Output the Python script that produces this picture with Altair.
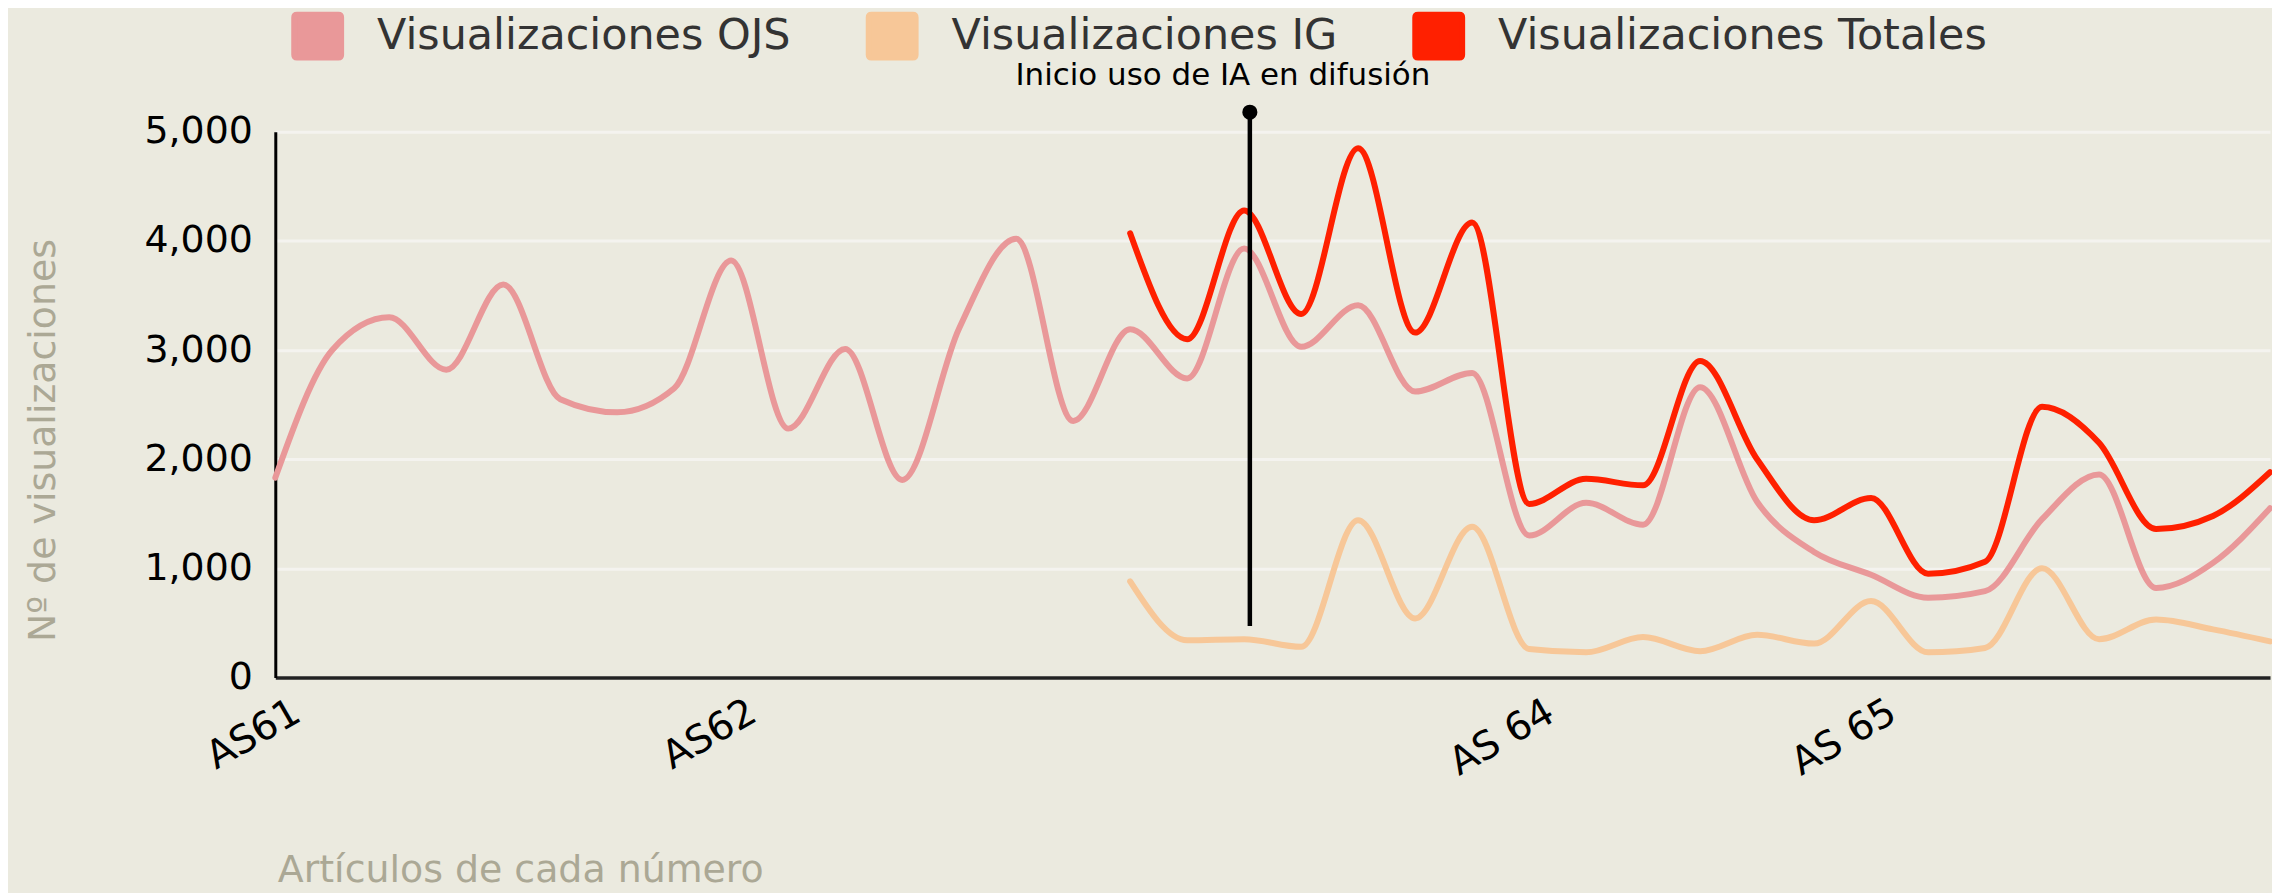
import altair as alt
import pandas as pd

# ---------------- data ----------------
n_points = 36
ojs = [1830, 3000, 3300, 2820, 3600, 2550, 2430, 2650, 3820, 2280, 3010, 1810,
       3200, 4020, 2350, 3190, 2740, 3930, 3030, 3410, 2620, 2790, 1300, 1600,
       1400, 2660, 1610, 1150, 940, 730, 790, 1450, 1860, 820, 1050, 1550]
ig_start = 15
ig = [880, 340, 350, 280, 1440, 540, 1380, 260, 230, 370, 240, 390, 310, 700,
      230, 270, 1000, 350, 530, 440, 330]
total = [4070, 3100, 4280, 3330, 4850, 3160, 4170, 1590, 1820, 1760, 2900, 2000,
         1440, 1645, 950, 1060, 2480, 2150, 1360, 1480, 1880]

series_names = ["Visualizaciones OJS", "Visualizaciones IG", "Visualizaciones Totales"]
series_colors = ["#e99899", "#f7c798", "#ff2000"]
series_widths = [6, 6, 7]

tick_pos = [0, 8, 22, 28]
tick_labels = ["AS61", "AS62", "AS 64", "AS 65"]
y_ticks = [0, 1000, 2000, 3000, 4000, 5000]

annot_text = "Inicio uso de IA en difusión"
annot_x = 17.1
annot_top = 5180
annot_bottom = 470

# ---------------- tables ----------------
rows = []
for i, v in enumerate(ojs):
    rows.append({"idx": i, "valor": v, "serie": series_names[0]})
for k, v in enumerate(ig):
    rows.append({"idx": ig_start + k, "valor": v, "serie": series_names[1]})
for k, v in enumerate(total):
    rows.append({"idx": ig_start + k, "valor": v, "serie": series_names[2]})
df = pd.DataFrame(rows)

annot_df = pd.DataFrame({"idx": [annot_x], "valor": [annot_top], "valor2": [annot_bottom]})

label_expr = " : ".join(
    f"datum.value == {p} ? '{l}'" for p, l in zip(tick_pos, tick_labels)
) + " : ''"

BG = "#ebeadf"
GRAY = "#aba895"

x_enc = alt.X(
    "idx:Q",
    title="Artículos de cada número",
    scale=alt.Scale(domain=[0, n_points - 1], nice=False, zero=False),
    axis=alt.Axis(
        values=tick_pos,
        labelExpr=label_expr,
        labelAngle=-30,
        labelAlign="right",
        labelBaseline="top",
        labelOffset=12,
        labelPadding=15,
        labelFont="DejaVu Sans",
        labelFontSize=39,
        labelColor="#000000",
        labelOverlap=False,
        ticks=False,
        grid=False,
        domainColor="#222222",
        domainWidth=3.5,
        titleFont="DejaVu Sans",
        titleFontSize=38,
        titleFontWeight="normal",
        titleColor=GRAY,
        titleAlign="left",
        titleBaseline="alphabetic",
        titleX=2,
        titleY=205,
    ),
)

y_enc = alt.Y(
    "valor:Q",
    title="Nº de visualizaciones",
    scale=alt.Scale(domain=[0, 5000], nice=False),
    axis=alt.Axis(
        values=y_ticks,
        format=",.0f",
        labelFont="DejaVu Sans",
        labelFontSize=38,
        labelColor="#000000",
        labelPadding=23,
        ticks=False,
        domainColor="#000000",
        domainWidth=3,
        grid=True,
        gridColor="#f4f3ef",
        gridWidth=3,
        titleFont="DejaVu Sans",
        titleFontSize=38,
        titleFontWeight="normal",
        titleColor=GRAY,
        titleAngle=270,
        titleAlign="center",
        titleBaseline="alphabetic",
        titleX=-221,
        titleY=309,
    ),
)

rounded_square = ("M-0.88,-0.915 L0.88,-0.915 Q1,-0.915 1,-0.795 L1,0.795 "
                  "Q1,0.915 0.88,0.915 L-0.88,0.915 Q-1,0.915 -1,0.795 "
                  "L-1,-0.795 Q-1,-0.915 -0.88,-0.915 Z")

legend_layer = alt.Chart(df).mark_square(opacity=0, size=10).encode(
    x=x_enc,
    y=y_enc,
    fill=alt.Fill(
        "serie:N",
        scale=alt.Scale(domain=series_names, range=series_colors),
        legend=alt.Legend(
            title=None,
            orient="none",
            legendX=16,
            legendY=-123,
            direction="horizontal",
            symbolType=rounded_square,
            symbolSize=2209,
            symbolStrokeWidth=0,
            symbolOpacity=1,
            labelFont="DejaVu Sans",
            labelFontSize=43,
            labelColor="#333333",
            labelOffset=33,
            labelLimit=1000,
            columnPadding=66,
        ),
    ),
)

lines = alt.Chart(df).mark_line(interpolate="monotone", strokeCap="round").encode(
    x=x_enc,
    y=y_enc,
    color=alt.Color("serie:N", scale=alt.Scale(domain=series_names, range=series_colors), legend=None),
    strokeWidth=alt.StrokeWidth("serie:N", scale=alt.Scale(domain=series_names, range=series_widths), legend=None),
    order=alt.Order("idx:Q"),
)

rule = alt.Chart(annot_df).mark_rule(color="#000000", strokeWidth=4.5).encode(
    x=x_enc, y=y_enc, y2="valor2:Q"
)
dot = alt.Chart(annot_df).mark_circle(color="#000000", opacity=1, size=230).encode(
    x=x_enc, y=y_enc
)
label = alt.Chart(annot_df).mark_text(
    text=annot_text, font="DejaVu Sans", fontSize=31, color="#000000",
    align="center", baseline="alphabetic", dx=-27, dy=-27,
).encode(x=x_enc, y=y_enc)

chart = alt.layer(legend_layer, lines, rule, dot, label).properties(
    width=2000,
    height=547,
    background=BG,
    padding={"left": 268, "top": 123, "right": 2, "bottom": 215},
    autosize=alt.AutoSizeParams(type="none"),
).configure_view(stroke=None)

chart.save("out.html", embed_options={"renderer": "svg", "actions": False})
